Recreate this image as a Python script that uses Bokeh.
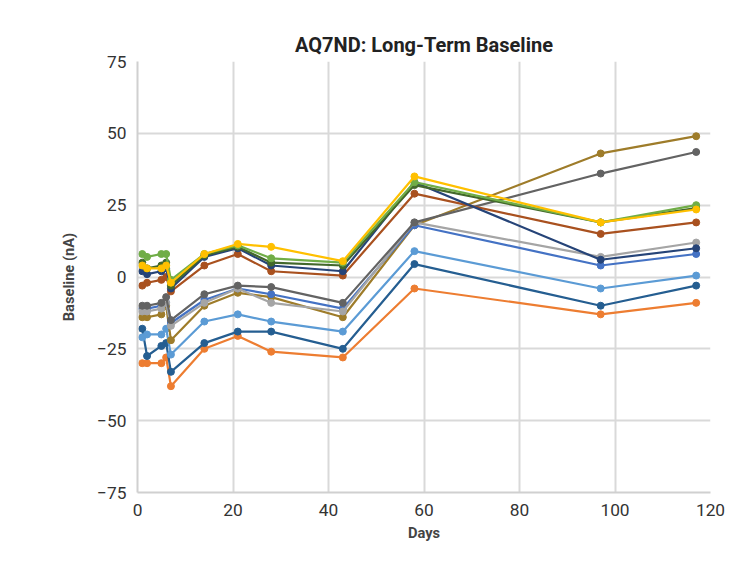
from bokeh.plotting import figure
from bokeh.embed import file_html
from bokeh.resources import INLINE
from bokeh.models import Range1d, FixedTicker

days = [1, 2, 5, 6, 7, 14, 21, 28, 43, 58, 97, 117]
s_yellow = [4, 3, 3, 4, -2, 8, 11.5, 10.5, 5.5, 35, 19, 23.5]
s_lgreen = [8, 7, 8, 8, -1, 8, 11, 6.5, 5, 33, 19, 25]
s_dgreen = [5, 3, 4, 5, -3, 7.5, 10.5, 5, 4, 32, 19, 24]
s_navy = [2, 1, 2, 3, -4, 7, 10, 4, 2, 33, 6, 10]
s_rust = [-3, -2, -1, 0, -5, 4, 8, 2, 0.5, 29, 15, 19]
s_dgray = [-10, -10, -9, -7, -15, -6, -3, -3.5, -9, 19, 36, 43.5]
s_lgray = [-12, -12, -11, -9, -17, -9, -4, -9, -12, 19, 7, 12]
s_mblue = [-11, -11, -10, -9, -16, -8, -4, -6, -11, 18, 4, 8]
s_olive = [-14, -14, -13, -10, -22, -10, -5.5, -7, -14, 18, 43, 49]
s_lblue = [-21, -20, -20, -18, -27, -15.5, -13, -15.5, -19, 9, -4, 0.5]
s_steel = [-18, -27.5, -24, -23, -33, -23, -19, -19, -25, 4.5, -10, -3]
s_orange = [-30, -30, -30, -28, -38, -25, -20.5, -26, -28, -4, -13, -9]

series = [
    (s_orange, "#ED7D31"), (s_steel, "#255E91"), (s_lblue, "#5B9BD5"),
    (s_olive, "#9E7C2A"), (s_mblue, "#4472C4"), (s_lgray, "#A5A5A5"),
    (s_dgray, "#636363"), (s_rust, "#A9511F"), (s_navy, "#264478"),
    (s_dgreen, "#43682B"), (s_lgreen, "#70AD47"), (s_yellow, "#FFC000"),
]

p = figure(width=741, height=546, output_backend="svg", toolbar_location=None,
           x_range=Range1d(0, 120), y_range=Range1d(-75, 75),
           title="AQ7ND: Long-Term Baseline",
           min_border_left=137, min_border_right=31, min_border_top=61, min_border_bottom=54)
p.title.align = "center"
p.title.text_font = "Roboto"
p.title.text_font_size = "15pt"
p.title.text_font_style = "bold"
p.title.text_color = "#222222"
for ys, c in series:
    p.line(days, ys, color=c, line_width=2.2)
    p.scatter(days, ys, color=c, size=7)

p.xaxis.ticker = FixedTicker(ticks=list(range(0, 121, 20)))
p.yaxis.ticker = FixedTicker(ticks=list(range(-75, 76, 25)))
p.xaxis.axis_label = "Days"
p.yaxis.axis_label = "Baseline (nA)"
for ax in (p.xaxis[0], p.yaxis[0]):
    ax.axis_label_text_font = "Roboto"
    ax.axis_label_text_font_style = "bold"
    ax.axis_label_text_font_size = "11pt"
    ax.major_label_text_font = "Roboto"
    ax.major_label_text_font_size = "13pt"
    ax.major_label_text_color = "#333333"
    ax.major_tick_line_color = None
    ax.minor_tick_line_color = None
    ax.axis_line_color = "#D0D0D0"
    ax.axis_line_width = 2
p.yaxis.axis_label_standoff = 16
p.grid.grid_line_color = "#D9D9D9"
p.grid.grid_line_width = 2
p.outline_line_color = None
p.border_fill_color = "white"

open("out.html", "w").write(file_html(p, INLINE))
